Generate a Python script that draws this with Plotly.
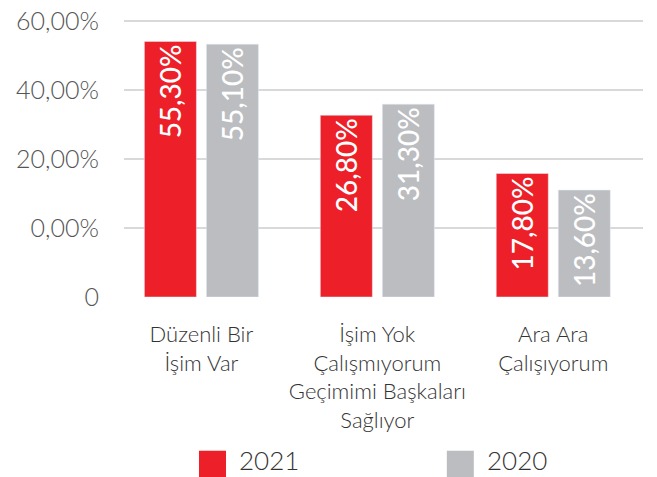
import plotly.graph_objects as go

# categories and values (bar heights)
categories = [
    "Düzenli Bir<br>İşim Var",
    "İşim Yok<br>Çalışmıyorum<br>Geçimimi Başkaları<br>Sağlıyor",
    "Ara Ara<br>Çalışıyorum",
]
heights_2021 = [74.1, 52.7, 35.8]
heights_2020 = [73.3, 55.9, 31.0]
labels_2021 = ["55,30%", "26,80%", "17,80%"]
labels_2020 = ["55,10%", "31,30%", "13,60%"]

tick_vals = [0, 20, 40, 60, 80]
tick_text = ["0", "0,00%", "20,00%", "40,00%", "60,00%"]

colors = {"2021": "#ED1F28", "2020": "#BBBDC0"}
font_family = "Lato"

fig = go.Figure()
for name, ys, txt in [("2021", heights_2021, labels_2021),
                      ("2020", heights_2020, labels_2020)]:
    fig.add_trace(go.Bar(
        x=categories,
        y=ys,
        name=name,
        text=txt,
        textposition="inside",
        insidetextanchor="end",
        textangle=-90,
        insidetextfont=dict(family=font_family, size=28, color="white", weight=500),
        constraintext="none",
        marker=dict(color=colors[name]),
        hoverinfo="skip",
    ))

# legend drawn by hand so the swatches are big squares like the original
legend_items = [("2021", 0.1445), ("2020", 0.622)]
shapes = []
annotations = []
for name, xpos in legend_items:
    shapes.append(dict(
        type="rect", xref="paper", yref="paper",
        x0=xpos, x1=xpos + 27 / 519, y0=-0.65, y1=-0.553,
        fillcolor=colors[name], line=dict(width=0),
    ))
    annotations.append(dict(
        text=name, xref="paper", yref="paper",
        x=xpos + 38 / 519, y=-0.586, xanchor="left", yanchor="middle",
        showarrow=False,
        font=dict(family=font_family, size=26, color="#333333", weight=300),
    ))

# the page body adds an 8px offset, so the figure is 8px smaller than the window
fig.update_layout(
    width=649,
    height=469,
    margin={"l": 116, "r": 14, "t": 11, "b": 180},
    barmode="group",
    bargap=0.295,
    bargroupgap=0.161,
    showlegend=False,
    paper_bgcolor="white",
    plot_bgcolor="white",
    shapes=shapes,
    annotations=annotations,
    xaxis=dict(
        range=[-0.44, 2.51],
        automargin=False,
        showgrid=False,
        zeroline=False,
        showline=False,
        ticks="",
        ticklabelstandoff=22,
        tickfont=dict(family=font_family, size=22, color="#333333", weight=300),
    ),
    yaxis=dict(
        range=[0, 80.6],
        automargin=False,
        tickvals=tick_vals,
        ticktext=tick_text,
        ticklabeloverflow="allow",
        showgrid=True,
        gridcolor="#D9D9D9",
        gridwidth=2,
        zeroline=False,
        showline=False,
        ticks="",
        ticklabelstandoff=24,
        tickfont=dict(family=font_family, size=25, color="#555555", weight=300),
    ),
)

fig.write_html("out.html")
